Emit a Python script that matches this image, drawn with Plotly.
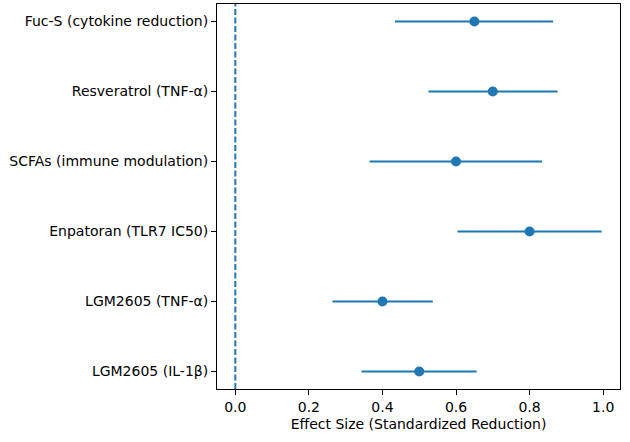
import plotly.graph_objects as go

labels = ["LGM2605 (IL-1β)", "LGM2605 (TNF-α)", "Enpatoran (TLR7 IC50)",
          "SCFAs (immune modulation)", "Resveratrol (TNF-α)", "Fuc-S (cytokine reduction)"]
effect = [0.50, 0.40, 0.80, 0.60, 0.70, 0.65]
ci_low = [0.343, 0.264, 0.604, 0.365, 0.525, 0.434]
ci_high = [0.656, 0.537, 0.996, 0.834, 0.876, 0.864]

blue = "#1f77b4"
ypos = list(range(len(labels)))

fig = go.Figure()
fig.add_trace(go.Scatter(
    x=effect, y=ypos, mode="markers",
    marker=dict(color=blue, size=10),
    error_x=dict(type="data", symmetric=False,
                 array=[h - e for h, e in zip(ci_high, effect)],
                 arrayminus=[e - l for e, l in zip(effect, ci_low)],
                 color=blue, thickness=2, width=0),
    showlegend=False, hoverinfo="skip"))

fig.add_shape(type="line", x0=0, x1=0, y0=0, y1=1, xref="x", yref="paper",
              line=dict(color=blue, width=2, dash="6px,2.5px"))

fig.update_layout(
    width=630, height=442,
    margin=dict(l=217, r=10, t=4, b=53),
    paper_bgcolor="white", plot_bgcolor="white",
    font=dict(family="DejaVu Sans", size=14, color="black"),
    xaxis=dict(range=[-0.0498, 1.0458], tickvals=[0, 0.2, 0.4, 0.6, 0.8, 1.0],
               ticktext=["0.0", "0.2", "0.4", "0.6", "0.8", "1.0"],
               showgrid=False, zeroline=False, showline=True, linecolor="black",
               linewidth=1, mirror=True, ticks="outside", ticklen=5, tickcolor="black",
               automargin=False,
               title=dict(text="Effect Size (Standardized Reduction)", standoff=5,
                          font=dict(size=14))),
    yaxis=dict(range=[-0.25, 5.25], tickvals=ypos, ticktext=labels,
               showgrid=False, zeroline=False, showline=True, linecolor="black",
               linewidth=1, mirror=True, ticks="outside", ticklen=5, tickcolor="black",
               automargin=False),
)

fig.write_html("out.html", config={"displayModeBar": False},
               post_script="document.body.style.margin='0';")
